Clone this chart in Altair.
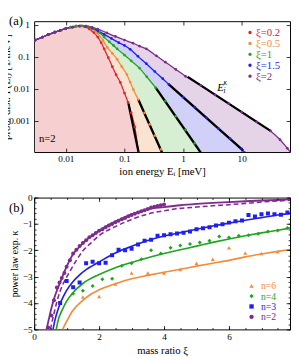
import altair as alt
import pandas as pd

FONT = "Liberation Serif"

# ================= panel (a): ion energy distributions (n=2) =================
SERIES_A = ["ξ=0.2", "ξ=0.5", "ξ=1", "ξ=1.5", "ξ=2"]
LINE_A = ["#e0242b", "#f28c3a", "#1fa51f", "#1f1fef", "#7e2a8e"]
FILL_A = ["#f6d0d0", "#fbe3d1", "#d6efd3", "#d0d0f8", "#e5d3e8"]

E_A02 = [0.003, 0.004, 0.005, 0.0065, 0.008, 0.01, 0.012, 0.015, 0.018, 0.021, 0.025, 0.03, 0.035,
         0.04, 0.045, 0.053, 0.062, 0.072, 0.085, 0.1, 0.115, 0.13, 0.15, 0.175, 0.19]
P_A02 = [0.34, 0.42, 0.5, 0.6, 0.68, 0.78, 0.86, 0.92, 0.93, 0.88, 0.76, 0.58, 0.42,
         0.28, 0.18, 0.095, 0.05, 0.028, 0.016, 0.0075, 0.0038, 0.0018, 0.00065, 0.0001, 0.00005]

E_A05 = [0.003, 0.004, 0.005, 0.0065, 0.008, 0.01, 0.012, 0.015, 0.018, 0.022, 0.027, 0.035, 0.043,
         0.051, 0.062, 0.075, 0.09, 0.11, 0.125, 0.142, 0.172, 0.22, 0.27, 0.33, 0.42, 0.46]
P_A05 = [0.34, 0.42, 0.5, 0.6, 0.68, 0.78, 0.86, 0.92, 0.94, 0.9, 0.78, 0.55, 0.33,
         0.2, 0.13, 0.085, 0.05, 0.028, 0.0165, 0.0095, 0.0047, 0.0018, 0.00079, 0.00035, 0.00013, 0.00008]

E_A1 = [0.003, 0.004, 0.005, 0.0065, 0.008, 0.01, 0.012, 0.015, 0.019, 0.024, 0.03, 0.037, 0.045,
        0.055, 0.065, 0.075, 0.1, 0.13, 0.18, 0.24, 0.34, 0.5, 0.75, 1.1, 1.58, 2.04, 2.3]
P_A1 = [0.34, 0.42, 0.5, 0.6, 0.68, 0.78, 0.85, 0.92, 0.95, 0.9, 0.78, 0.6, 0.42,
        0.3, 0.23, 0.18, 0.115, 0.076, 0.045, 0.024, 0.011, 0.0042, 0.0014, 0.00053, 0.0002, 0.0001, 0.00007]

E_A15 = [0.003, 0.004, 0.005, 0.0065, 0.008, 0.01, 0.013, 0.017, 0.022, 0.028, 0.035, 0.045, 0.06,
         0.08, 0.1, 0.125, 0.17, 0.236, 0.33, 0.45, 0.57, 1.0, 1.58, 2.5, 4.0, 6.3, 9.9, 11.5]
P_A15 = [0.34, 0.42, 0.5, 0.6, 0.68, 0.77, 0.86, 0.93, 0.9, 0.8, 0.66, 0.51, 0.38,
         0.28, 0.23, 0.175, 0.105, 0.062, 0.035, 0.021, 0.014, 0.0056, 0.0027, 0.00126, 0.00058,
         0.00028, 0.000135, 0.0001]

E_A2 = [0.003, 0.004, 0.005, 0.0065, 0.008, 0.01, 0.013, 0.017, 0.022, 0.028, 0.035, 0.05, 0.07,
        0.1, 0.14, 0.18, 0.236, 0.35, 0.5, 0.75, 1.1, 2.0, 3.5, 6.0, 10, 18, 31, 45, 60, 70]
P_A2 = [0.34, 0.42, 0.5, 0.6, 0.68, 0.77, 0.86, 0.93, 0.93, 0.85, 0.75, 0.57, 0.44,
        0.34, 0.27, 0.22, 0.18, 0.109, 0.069, 0.041, 0.025, 0.013, 0.0066, 0.0035, 0.0019,
        0.00094, 0.00049, 0.00026, 0.00014, 0.0001]

# power-law tails E_i^kappa (black segments)
TAIL_E0 = [0.117, 0.172, 0.34, 0.57, 1.2]
TAIL_P0 = [0.0035, 0.0047, 0.011, 0.014, 0.024]
TAIL_E1 = [0.18, 0.44, 2.1, 10.5, 31]
TAIL_P1 = [0.000078, 0.0001, 0.00009, 0.00012, 0.00049]

X_TICKS_A = [0.01, 0.1, 1, 10]
Y_TICKS_A = [0.001, 0.01, 0.1, 1]

# ================= panel (b): power-law exponent vs mass ratio =================
SERIES_B = ["n=6", "n=4", "n=3", "n=2"]
COLOR_B = ["#f28c3a", "#1fa51f", "#1f1fef", "#7e2a8e"]
SHAPE_B = ["triangle-up", "diamond", "square", "circle"]

XI_N2 = [0.43, 0.53, 0.61, 0.70, 0.78, 0.85, 0.93, 1.0, 1.1, 1.2, 1.3, 1.4, 1.5, 1.6, 1.7, 1.8, 1.9,
         2.0, 2.1, 2.2, 2.3, 2.4, 2.5, 2.6, 2.7, 2.8, 2.9, 3.0, 3.1, 3.2, 3.3, 3.4, 3.5, 3.6, 3.7,
         3.8, 3.9, 4.0]
K_N2 = [-4.93, -4.47, -3.89, -3.41, -3.22, -3.05, -2.86, -2.62, -2.38, -2.12, -1.98, -1.84, -1.72,
        -1.62, -1.5, -1.43, -1.34, -1.26, -1.2, -1.13, -1.06, -1.0, -0.94, -0.88, -0.82, -0.77,
        -0.71, -0.66, -0.61, -0.57, -0.52, -0.48, -0.43, -0.38, -0.35, -0.32, -0.29, -0.26]

XI_N3 = [0.8, 1.0, 1.2, 1.4, 1.6, 1.8, 2.0, 2.2, 2.4, 2.6, 2.8, 3.0, 3.2, 3.4, 3.6, 3.8, 4.0, 4.2,
         4.4, 4.6, 4.8, 5.0, 5.2, 5.4, 5.6, 5.8, 6.0, 6.2, 6.4, 6.6, 6.8, 7.0, 7.2, 7.4, 7.6, 7.8]
K_N3 = [-4.0, -3.16, -3.4, -3.22, -2.49, -2.43, -2.49, -2.47, -2.19, -1.98, -2.0, -1.94, -1.78,
        -1.64, -1.6, -1.45, -1.43, -1.39, -1.36, -1.33, -1.29, -1.2, -1.16, -1.13, -1.06, -1.01,
        -0.95, -0.9, -0.87, -0.66, -0.72, -0.63, -0.6, -0.63, -0.65, -0.57]

XI_N4 = [1.2, 1.5, 1.8, 2.1, 2.4, 2.7, 3.0, 3.3, 3.6, 3.9, 4.2, 4.5, 4.8, 5.1, 5.4, 5.7, 6.0, 6.3,
         6.6, 6.9, 7.2, 7.5, 7.8]
K_N4 = [-3.65, -3.53, -3.35, -3.1, -3.08, -2.59, -2.49, -2.34, -2.0, -2.12, -1.9, -1.82, -1.76,
        -1.7, -1.64, -1.48, -1.51, -1.45, -1.43, -1.37, -1.29, -1.25, -1.15]

XI_N6 = [1.5, 2.0, 2.5, 3.0, 3.5, 4.0, 4.5, 5.0, 5.5, 6.0, 6.5, 7.0, 7.5]
K_N6 = [-3.77, -3.75, -3.28, -2.86, -2.86, -2.86, -2.73, -2.49, -2.34, -1.9, -2.1, -2.12, -2.06]

# fitted curves (solid) and the dashed n=2 curve
XI_N2_FIT = [0.38, 0.45, 0.53, 0.61, 0.68, 0.8, 0.9, 1.0, 1.1, 1.2, 1.4, 1.6, 1.8, 2.0, 2.3, 2.6,
             3.0, 3.5, 4.0, 4.5, 5.0, 5.5, 6.0, 6.5, 7.0, 7.5, 7.88]
K_N2_FIT = [-5.0, -4.62, -4.2, -3.85, -3.59, -3.22, -2.9, -2.62, -2.36, -2.14, -1.86, -1.62, -1.43,
            -1.26, -1.03, -0.85, -0.64, -0.44, -0.36, -0.29, -0.24, -0.2, -0.17, -0.14, -0.11,
            -0.09, -0.07]
XI_N2_DASH = [0.5, 0.6, 0.7, 0.8, 0.9, 1.0, 1.1, 1.3, 1.5, 1.75, 2.0, 2.5, 3.0, 3.5, 4.0, 4.5, 5.0,
              5.5, 6.0, 6.5, 7.0, 7.5, 7.88]
K_N2_DASH = [-5.0, -4.45, -3.95, -3.55, -3.25, -3.02, -2.8, -2.38, -2.02, -1.72, -1.44, -1.1, -0.83,
             -0.62, -0.5, -0.41, -0.36, -0.31, -0.27, -0.22, -0.17, -0.13, -0.1]
XI_N3_FIT = [0.58, 0.65, 0.7, 0.8, 0.9, 1.0, 1.2, 1.4, 1.6, 1.8, 2.0, 2.5, 3.0, 3.5, 4.0, 4.5, 5.0,
             5.5, 6.0, 6.5, 7.0, 7.5, 7.88]
K_N3_FIT = [-5.0, -4.6, -4.38, -4.02, -3.75, -3.52, -3.18, -2.93, -2.73, -2.58, -2.44, -2.1, -1.85,
            -1.63, -1.46, -1.33, -1.2, -1.08, -0.97, -0.86, -0.76, -0.66, -0.6]
XI_N4_FIT = [0.68, 0.75, 0.85, 1.0, 1.2, 1.5, 2.0, 2.5, 3.0, 3.5, 4.0, 4.5, 5.0, 5.5, 6.0, 6.5, 7.0,
             7.5, 7.88]
K_N4_FIT = [-5.0, -4.6, -4.3, -3.93, -3.6, -3.26, -2.92, -2.66, -2.46, -2.28, -2.12, -1.98, -1.84,
            -1.7, -1.57, -1.45, -1.34, -1.24, -1.16]
XI_N6_FIT = [0.875, 1.0, 1.17, 1.5, 1.77, 2.0, 2.5, 3.0, 3.5, 4.0, 4.5, 5.0, 5.5, 6.0, 6.5, 7.0, 7.5,
             7.88]
K_N6_FIT = [-5.0, -4.7, -4.32, -3.9, -3.65, -3.5, -3.27, -3.08, -2.95, -2.83, -2.72, -2.6, -2.49,
            -2.38, -2.25, -2.14, -2.04, -1.97]

X_TICKS_B = [0, 2, 4, 6]
X_MINOR_B = [0, 0.5, 1, 1.5, 2, 2.5, 3, 3.5, 4, 4.5, 5, 5.5, 6, 6.5, 7, 7.5]
Y_TICKS_B = [-5, -4, -3, -2, -1, 0]
Y_MINOR_B = [-5, -4.8, -4.6, -4.4, -4.2, -4, -3.8, -3.6, -3.4, -3.2, -3, -2.8, -2.6, -2.4, -2.2,
             -2, -1.8, -1.6, -1.4, -1.2, -1, -0.8, -0.6, -0.4, -0.2, 0]

PANEL_LABELS = ["(a)", "(b)"]
NOTE_A = ["n=2"]
KAPPA_NOTE = ["E", "i", "κ"]
KAPPA_POS = [3.83, 0.0087]

# ----------------------------- data frames -----------------------------
df_a = pd.concat(
    [pd.DataFrame({"E": e, "P": p, "s": s})
     for s, e, p in zip(SERIES_A, [E_A02, E_A05, E_A1, E_A15, E_A2], [P_A02, P_A05, P_A1, P_A15, P_A2])],
    ignore_index=True)
df_tail = pd.DataFrame({"s": SERIES_A + SERIES_A, "E": TAIL_E0 + TAIL_E1, "P": TAIL_P0 + TAIL_P1})
df_leg_a = pd.DataFrame({"s": SERIES_A})

df_bp = pd.concat(
    [pd.DataFrame({"xi": x, "k": k, "n": n})
     for n, x, k in zip(SERIES_B, [XI_N6, XI_N4, XI_N3, XI_N2], [K_N6, K_N4, K_N3, K_N2])],
    ignore_index=True)
df_bf = pd.concat(
    [pd.DataFrame({"xi": x, "k": k, "n": n})
     for n, x, k in zip(["n=6", "n=4", "n=3"], [XI_N6_FIT, XI_N4_FIT, XI_N3_FIT],
                        [K_N6_FIT, K_N4_FIT, K_N3_FIT])],
    ignore_index=True)
df_b2 = pd.DataFrame({"xi": XI_N2_FIT, "k": K_N2_FIT, "n": "n=2"})
df_bd = pd.DataFrame({"xi": XI_N2_DASH, "k": K_N2_DASH, "n": "n=2"})
df_leg_b = pd.DataFrame({"n": SERIES_B})


# ----------------------------- helpers -----------------------------
def major(orient, values, **kw):
    return alt.Axis(orient=orient, values=values, offset=-4, tickSize=4, domain=False, grid=False,
                    labelFlush=False, labelOverlap=False, zindex=1, **kw)


def bare(orient, values, size=4):
    return alt.Axis(orient=orient, values=values, offset=-size, tickSize=size, domain=False,
                    grid=False, labels=False, title=None, zindex=1)


def helper_rule(y0, y1):
    return alt.Chart(pd.DataFrame({"h": [0]})).mark_rule(opacity=0, strokeWidth=0).encode(
        x=alt.value(-40), y=alt.value(y0), y2=alt.value(y1))


def label_text(t, x, y, size=13):
    return alt.Chart(pd.DataFrame({"t": [t]})).mark_text(
        align="left", baseline="alphabetic", font=FONT, fontSize=size, color="black"
    ).encode(x=alt.value(x), y=alt.value(y), text="t:N")


# ----------------------------- panel (a) -----------------------------
xa = alt.Scale(type="log", domain=[0.00288, 66.7], nice=False)
ya = alt.Scale(type="log", domain=[1.07e-4, 1.32], nice=False)
ca = alt.Scale(domain=SERIES_A, range=LINE_A)
fa = alt.Scale(domain=SERIES_A, range=FILL_A)

layers_a = []
for i, s in enumerate(reversed(SERIES_A)):
    if i == 0:
        ax = major("bottom", X_TICKS_A, format="~g", title="ion energy Eᵢ [meV]",
                   labelPadding=2, titlePadding=3)
        ay = major("left", Y_TICKS_A, format="~g", title="prob. dist. P(Eᵢ) [1/meV]",
                   labelPadding=5, titleX=-27.5)
    else:
        ax, ay = None, None
    layers_a.append(
        alt.Chart(df_a).transform_filter(alt.datum.s == s)
        .mark_area(clip=True, opacity=1, interpolate="monotone")
        .encode(x=alt.X("E:Q", scale=xa, axis=ax),
                y=alt.Y("P:Q", scale=ya, axis=ay),
                y2=alt.datum(1e-7),
                fill=alt.Fill("s:N", scale=fa, legend=None))
    )

lines_a = alt.Chart(df_a).mark_line(clip=True, strokeWidth=1.3, interpolate="monotone").encode(
    x=alt.X("E:Q", scale=xa, axis=major("top", X_TICKS_A, labels=False, title=None)),
    y=alt.Y("P:Q", scale=ya, axis=major("right", Y_TICKS_A, labels=False, title=None)),
    stroke=alt.Stroke("s:N", scale=ca, legend=None),
    detail="s:N",
)

tails_a = alt.Chart(df_tail).mark_line(clip=True, strokeWidth=2.4, color="black").encode(
    x=alt.X("E:Q", scale=xa, axis=None),
    y=alt.Y("P:Q", scale=ya, axis=None),
    detail="s:N",
)

pts_a = alt.Chart(df_a).mark_circle(clip=True, size=8, opacity=1).encode(
    x=alt.X("E:Q", scale=xa, axis=None),
    y=alt.Y("P:Q", scale=ya, axis=None),
    color=alt.Color("s:N", scale=ca, legend=None),
)

df_kappa = pd.DataFrame({"E": [KAPPA_POS[0]], "P": [KAPPA_POS[1]],
                         "t0": [KAPPA_NOTE[0]], "t1": [KAPPA_NOTE[1]], "t2": [KAPPA_NOTE[2]]})
kap_base = alt.Chart(df_kappa).encode(x=alt.X("E:Q", scale=xa, axis=None),
                                      y=alt.Y("P:Q", scale=ya, axis=None))
kap_E = kap_base.mark_text(align="left", baseline="alphabetic", font=FONT, fontSize=11,
                           fontStyle="italic", color="black").encode(text="t0:N")
kap_i = kap_base.mark_text(align="left", baseline="alphabetic", font=FONT, fontSize=7.5,
                           fontStyle="italic", color="black", dx=6.5, dy=2).encode(text="t1:N")
kap_k = kap_base.mark_text(align="left", baseline="alphabetic", font=FONT, fontSize=7.5,
                           fontStyle="italic", color="black", dx=6.5, dy=-6).encode(text="t2:N")

# legend of panel (a), drawn as marks
leg_ya = alt.Scale(domain=SERIES_A, range=[11.7, 56.7], padding=0)
leg_a_dots = alt.Chart(df_leg_a).mark_circle(size=12, opacity=1).encode(
    x=alt.value(222.7), y=alt.Y("s:N", scale=leg_ya, axis=None),
    color=alt.Color("s:N", scale=ca, legend=None))
leg_a_text = alt.Chart(df_leg_a).mark_text(align="left", baseline="middle", font=FONT,
                                           fontSize=11, dy=0.5).encode(
    x=alt.value(229), y=alt.Y("s:N", scale=leg_ya, axis=None), text="s:N",
    color=alt.Color("s:N", scale=ca, legend=None))

chart_a = alt.layer(
    *layers_a, lines_a, tails_a, pts_a, kap_E, kap_i, kap_k, leg_a_dots, leg_a_text,
    label_text(NOTE_A[0], 5, 125, 11),
    label_text(PANEL_LABELS[0], -26, 4, 13),
    helper_rule(-10, 0),
).properties(width=264, height=135).resolve_axis(
    x="independent", y="independent").resolve_scale(y="independent")

# ----------------------------- panel (b) -----------------------------
xb = alt.Scale(domain=[0, 7.88], nice=False)
yb = alt.Scale(domain=[-5, 0], nice=False)
cb = alt.Scale(domain=SERIES_B, range=COLOR_B)
sb = alt.Scale(domain=SERIES_B, range=SHAPE_B)

fits_b = alt.Chart(df_bf).mark_line(clip=True, strokeWidth=1.7, interpolate="monotone").encode(
    x=alt.X("xi:Q", scale=xb, axis=bare("bottom", X_MINOR_B, 2)),
    y=alt.Y("k:Q", scale=yb, axis=bare("left", Y_MINOR_B, 2)),
    stroke=alt.Stroke("n:N", scale=cb, legend=None),
    detail="n:N",
)
fit2_b = alt.Chart(df_b2).mark_line(clip=True, strokeWidth=1.9, interpolate="monotone").encode(
    x=alt.X("xi:Q", scale=xb, axis=major("top", X_TICKS_B, labels=False, title=None)),
    y=alt.Y("k:Q", scale=yb, axis=major("right", Y_TICKS_B, labels=False, title=None)),
    stroke=alt.Stroke("n:N", scale=cb, legend=None),
)
dash_b = alt.Chart(df_bd).mark_line(clip=True, strokeWidth=1.6, strokeDash=[5, 3],
                                    interpolate="monotone").encode(
    x=alt.X("xi:Q", scale=xb, axis=bare("top", X_MINOR_B, 2)),
    y=alt.Y("k:Q", scale=yb, axis=bare("right", Y_MINOR_B, 2)),
    stroke=alt.Stroke("n:N", scale=cb, legend=None),
)
pts_b = alt.Chart(df_bp).mark_point(filled=True, opacity=1, size=17, clip=True).encode(
    x=alt.X("xi:Q", scale=xb, axis=major("bottom", X_TICKS_B, title="mass ratio ξ",
                                          labelPadding=2, titlePadding=4)),
    y=alt.Y("k:Q", scale=yb, axis=major("left", Y_TICKS_B, title="power law exp. κ",
                                         labelPadding=2, titleX=-19, titleFontSize=10)),
    color=alt.Color("n:N", scale=cb, legend=None),
    shape=alt.Shape("n:N", scale=sb, legend=None),
)

# legend of panel (b), drawn as marks
leg_yb = alt.Scale(domain=SERIES_B, range=[91, 123], padding=0)
leg_b_sym = alt.Chart(df_leg_b).mark_point(filled=True, opacity=1, size=20).encode(
    x=alt.value(224.3), y=alt.Y("n:N", scale=leg_yb, axis=None),
    color=alt.Color("n:N", scale=cb, legend=None),
    shape=alt.Shape("n:N", scale=sb, legend=None))
leg_b_text = alt.Chart(df_leg_b).mark_text(align="left", baseline="middle", font=FONT,
                                           fontSize=10, dy=0.5).encode(
    x=alt.value(234), y=alt.Y("n:N", scale=leg_yb, axis=None), text="n:N",
    color=alt.Color("n:N", scale=cb, legend=None))

chart_b = alt.layer(
    fits_b, fit2_b, dash_b, pts_b, leg_b_sym, leg_b_text,
    label_text(PANEL_LABELS[1], -26, 15, 13),
).properties(width=264, height=136).resolve_axis(
    x="independent", y="independent").resolve_scale(y="independent")

chart = alt.vconcat(chart_a, chart_b, spacing=47, bounds="flush").properties(
    padding={"left": -14, "top": -3, "right": 0, "bottom": 0}
).resolve_scale(
    color="independent", fill="independent", stroke="independent", shape="independent"
).configure_view(stroke="black", strokeWidth=1).configure_axis(
    labelFont=FONT, titleFont=FONT, labelFontSize=9.5, titleFontSize=11, titleFontWeight="normal",
    labelColor="black", titleColor="black", tickColor="black", tickWidth=0.8, grid=False
)

chart.save("out.html", embed_options={"renderer": "svg", "actions": False})
